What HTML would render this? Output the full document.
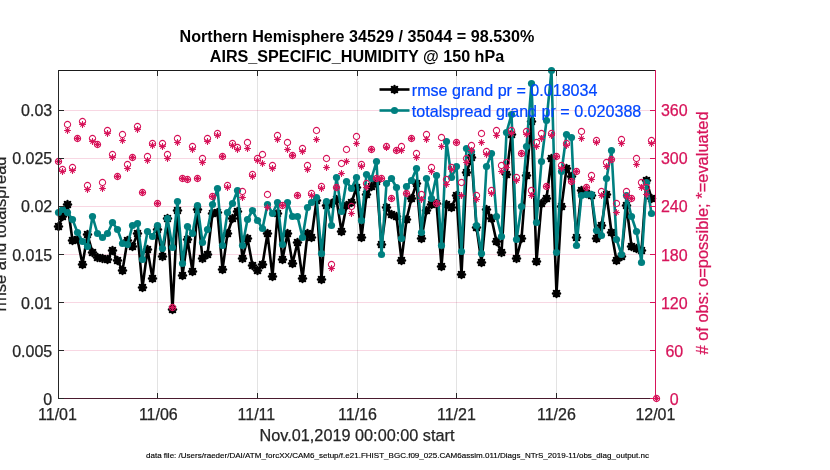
<!DOCTYPE html><html><head><meta charset="utf-8"><style>html,body{margin:0;padding:0;background:#fff;overflow:hidden}svg{display:block}</style></head><body><svg width="830" height="470" viewBox="0 0 830 470">
<rect width="830" height="470" fill="#fff"/>
<line x1="157.50" y1="70.5" x2="157.50" y2="398.5" stroke="#262626" stroke-opacity="0.13" stroke-width="1"/><line x1="257.50" y1="70.5" x2="257.50" y2="398.5" stroke="#262626" stroke-opacity="0.13" stroke-width="1"/><line x1="357.50" y1="70.5" x2="357.50" y2="398.5" stroke="#262626" stroke-opacity="0.13" stroke-width="1"/><line x1="456.50" y1="70.5" x2="456.50" y2="398.5" stroke="#262626" stroke-opacity="0.13" stroke-width="1"/><line x1="556.50" y1="70.5" x2="556.50" y2="398.5" stroke="#262626" stroke-opacity="0.13" stroke-width="1"/><line x1="58.5" y1="350.5" x2="655.5" y2="350.5" stroke="#d7145a" stroke-opacity="0.17" stroke-width="1"/><line x1="58.5" y1="302.5" x2="655.5" y2="302.5" stroke="#d7145a" stroke-opacity="0.17" stroke-width="1"/><line x1="58.5" y1="254.5" x2="655.5" y2="254.5" stroke="#d7145a" stroke-opacity="0.17" stroke-width="1"/><line x1="58.5" y1="206.5" x2="655.5" y2="206.5" stroke="#d7145a" stroke-opacity="0.17" stroke-width="1"/><line x1="58.5" y1="158.5" x2="655.5" y2="158.5" stroke="#d7145a" stroke-opacity="0.17" stroke-width="1"/><line x1="58.5" y1="110.5" x2="655.5" y2="110.5" stroke="#d7145a" stroke-opacity="0.17" stroke-width="1"/>
<defs><g id="st"><path d="M-3.6 0H3.6M0 -3.6V3.6M-2.6 -2.6L2.6 2.6M-2.6 2.6L2.6 -2.6" stroke="#000" stroke-width="2.4" stroke-linecap="round"/></g><g id="ps"><path d="M-3.4 0H3.4M0 -3.4V3.4M-2.2 -2.2L2.2 2.2M-2.2 2.2L2.2 -2.2" stroke="#d7145a" stroke-width="1.05"/></g><circle id="pc" r="3.15" fill="none" stroke="#d7145a" stroke-width="1.05"/></defs>
<polyline points="58.5,226.5 62.5,216.5 67.5,204.5 72.5,240.5 77.5,239.5 82.5,264.5 87.5,234.5 92.5,252.5 97.5,257.5 102.5,258.5 107.5,259.5 112.5,250.5 117.5,260.5 122.5,270.5 127.5,240.5 132.5,246.5 137.5,233.5 142.5,287.5 147.5,249.5 152.5,278.5 157.5,229.5 162.5,256.5 167.5,218.5 172.5,309.5 177.5,210.5 182.5,275.5 187.5,239.5 192.5,271.5 197.5,209.5 202.5,258.5 207.5,254.5 212.5,213.5 217.5,212.5 222.5,269.5 227.5,233.5 232.5,218.5 237.5,211.5 242.5,258.5 247.5,238.5 252.5,265.5 257.5,270.5 262.5,264.5 267.5,233.5 272.5,276.5 277.5,213.5 282.5,259.5 287.5,233.5 292.5,263.5 297.5,242.5 302.5,278.5 307.5,233.5 311.5,237.5 316.5,200.5 321.5,279.5 326.5,205.5 331.5,203.5 336.5,199.5 341.5,231.5 346.5,205.5 351.5,202.5 356.5,187.5 361.5,237.5 366.5,194.5 371.5,186.5 376.5,181.5 381.5,244.5 386.5,207.5 391.5,214.5 396.5,216.5 401.5,260.5 406.5,219.5 411.5,198.5 416.5,183.5 421.5,238.5 426.5,210.5 431.5,204.5 436.5,203.5 441.5,266.5 446.5,204.5 451.5,207.5 456.5,195.5 461.5,274.5 466.5,172.5 471.5,157.5 476.5,227.5 481.5,262.5 486.5,209.5 491.5,218.5 496.5,241.5 501.5,252.5 506.5,174.5 511.5,134.5 516.5,258.5 521.5,238.5 526.5,175.5 531.5,121.5 536.5,261.5 541.5,203.5 546.5,198.5 551.5,158.5 556.5,293.5 561.5,206.5 566.5,168.5 571.5,176.5 576.5,237.5 581.5,190.5 586.5,193.5 591.5,195.5 596.5,238.5 601.5,225.5 606.5,194.5 611.5,232.5 616.5,260.5 621.5,256.5 626.5,205.5 631.5,246.5 636.5,248.5 641.5,250.5 646.5,180.5 651.5,198.5" fill="none" stroke="#000" stroke-width="2.6" stroke-linejoin="round"/>
<use href="#st" x="58.5" y="226.5"/>
<use href="#st" x="62.5" y="216.5"/>
<use href="#st" x="67.5" y="204.5"/>
<use href="#st" x="72.5" y="240.5"/>
<use href="#st" x="77.5" y="239.5"/>
<use href="#st" x="82.5" y="264.5"/>
<use href="#st" x="87.5" y="234.5"/>
<use href="#st" x="92.5" y="252.5"/>
<use href="#st" x="97.5" y="257.5"/>
<use href="#st" x="102.5" y="258.5"/>
<use href="#st" x="107.5" y="259.5"/>
<use href="#st" x="112.5" y="250.5"/>
<use href="#st" x="117.5" y="260.5"/>
<use href="#st" x="122.5" y="270.5"/>
<use href="#st" x="127.5" y="240.5"/>
<use href="#st" x="132.5" y="246.5"/>
<use href="#st" x="137.5" y="233.5"/>
<use href="#st" x="142.5" y="287.5"/>
<use href="#st" x="147.5" y="249.5"/>
<use href="#st" x="152.5" y="278.5"/>
<use href="#st" x="157.5" y="229.5"/>
<use href="#st" x="162.5" y="256.5"/>
<use href="#st" x="167.5" y="218.5"/>
<use href="#st" x="172.5" y="309.5"/>
<use href="#st" x="177.5" y="210.5"/>
<use href="#st" x="182.5" y="275.5"/>
<use href="#st" x="187.5" y="239.5"/>
<use href="#st" x="192.5" y="271.5"/>
<use href="#st" x="197.5" y="209.5"/>
<use href="#st" x="202.5" y="258.5"/>
<use href="#st" x="207.5" y="254.5"/>
<use href="#st" x="212.5" y="213.5"/>
<use href="#st" x="217.5" y="212.5"/>
<use href="#st" x="222.5" y="269.5"/>
<use href="#st" x="227.5" y="233.5"/>
<use href="#st" x="232.5" y="218.5"/>
<use href="#st" x="237.5" y="211.5"/>
<use href="#st" x="242.5" y="258.5"/>
<use href="#st" x="247.5" y="238.5"/>
<use href="#st" x="252.5" y="265.5"/>
<use href="#st" x="257.5" y="270.5"/>
<use href="#st" x="262.5" y="264.5"/>
<use href="#st" x="267.5" y="233.5"/>
<use href="#st" x="272.5" y="276.5"/>
<use href="#st" x="277.5" y="213.5"/>
<use href="#st" x="282.5" y="259.5"/>
<use href="#st" x="287.5" y="233.5"/>
<use href="#st" x="292.5" y="263.5"/>
<use href="#st" x="297.5" y="242.5"/>
<use href="#st" x="302.5" y="278.5"/>
<use href="#st" x="307.5" y="233.5"/>
<use href="#st" x="311.5" y="237.5"/>
<use href="#st" x="316.5" y="200.5"/>
<use href="#st" x="321.5" y="279.5"/>
<use href="#st" x="326.5" y="205.5"/>
<use href="#st" x="331.5" y="203.5"/>
<use href="#st" x="336.5" y="199.5"/>
<use href="#st" x="341.5" y="231.5"/>
<use href="#st" x="346.5" y="205.5"/>
<use href="#st" x="351.5" y="202.5"/>
<use href="#st" x="356.5" y="187.5"/>
<use href="#st" x="361.5" y="237.5"/>
<use href="#st" x="366.5" y="194.5"/>
<use href="#st" x="371.5" y="186.5"/>
<use href="#st" x="376.5" y="181.5"/>
<use href="#st" x="381.5" y="244.5"/>
<use href="#st" x="386.5" y="207.5"/>
<use href="#st" x="391.5" y="214.5"/>
<use href="#st" x="396.5" y="216.5"/>
<use href="#st" x="401.5" y="260.5"/>
<use href="#st" x="406.5" y="219.5"/>
<use href="#st" x="411.5" y="198.5"/>
<use href="#st" x="416.5" y="183.5"/>
<use href="#st" x="421.5" y="238.5"/>
<use href="#st" x="426.5" y="210.5"/>
<use href="#st" x="431.5" y="204.5"/>
<use href="#st" x="436.5" y="203.5"/>
<use href="#st" x="441.5" y="266.5"/>
<use href="#st" x="446.5" y="204.5"/>
<use href="#st" x="451.5" y="207.5"/>
<use href="#st" x="456.5" y="195.5"/>
<use href="#st" x="461.5" y="274.5"/>
<use href="#st" x="466.5" y="172.5"/>
<use href="#st" x="471.5" y="157.5"/>
<use href="#st" x="476.5" y="227.5"/>
<use href="#st" x="481.5" y="262.5"/>
<use href="#st" x="486.5" y="209.5"/>
<use href="#st" x="491.5" y="218.5"/>
<use href="#st" x="496.5" y="241.5"/>
<use href="#st" x="501.5" y="252.5"/>
<use href="#st" x="506.5" y="174.5"/>
<use href="#st" x="511.5" y="134.5"/>
<use href="#st" x="516.5" y="258.5"/>
<use href="#st" x="521.5" y="238.5"/>
<use href="#st" x="526.5" y="175.5"/>
<use href="#st" x="531.5" y="121.5"/>
<use href="#st" x="536.5" y="261.5"/>
<use href="#st" x="541.5" y="203.5"/>
<use href="#st" x="546.5" y="198.5"/>
<use href="#st" x="551.5" y="158.5"/>
<use href="#st" x="556.5" y="293.5"/>
<use href="#st" x="561.5" y="206.5"/>
<use href="#st" x="566.5" y="168.5"/>
<use href="#st" x="571.5" y="176.5"/>
<use href="#st" x="576.5" y="237.5"/>
<use href="#st" x="581.5" y="190.5"/>
<use href="#st" x="586.5" y="193.5"/>
<use href="#st" x="591.5" y="195.5"/>
<use href="#st" x="596.5" y="238.5"/>
<use href="#st" x="601.5" y="225.5"/>
<use href="#st" x="606.5" y="194.5"/>
<use href="#st" x="611.5" y="232.5"/>
<use href="#st" x="616.5" y="260.5"/>
<use href="#st" x="621.5" y="256.5"/>
<use href="#st" x="626.5" y="205.5"/>
<use href="#st" x="631.5" y="246.5"/>
<use href="#st" x="636.5" y="248.5"/>
<use href="#st" x="641.5" y="250.5"/>
<use href="#st" x="646.5" y="180.5"/>
<use href="#st" x="651.5" y="198.5"/>
<polyline points="58.5,212.5 62.5,209.5 67.5,212.5 72.5,219.5 77.5,232.5 82.5,241.5 87.5,246.5 92.5,216.5 97.5,233.5 102.5,237.5 107.5,233.5 112.5,222.5 117.5,229.5 122.5,243.5 127.5,244.5 132.5,225.5 137.5,223.5 142.5,259.5 147.5,231.5 152.5,236.5 157.5,225.5 162.5,248.5 167.5,218.5 172.5,247.5 177.5,201.5 182.5,263.5 187.5,226.5 192.5,233.5 197.5,205.5 202.5,242.5 207.5,229.5 212.5,204.5 217.5,188.5 222.5,245.5 227.5,212.5 232.5,203.5 237.5,190.5 242.5,245.5 247.5,219.5 252.5,210.5 257.5,220.5 262.5,228.5 267.5,204.5 272.5,213.5 277.5,202.5 282.5,244.5 287.5,202.5 292.5,216.5 297.5,216.5 302.5,237.5 307.5,207.5 311.5,202.5 316.5,197.5 321.5,253.5 326.5,201.5 331.5,225.5 336.5,177.5 341.5,211.5 346.5,181.5 351.5,188.5 356.5,177.5 361.5,220.5 366.5,174.5 371.5,178.5 376.5,161.5 381.5,254.5 386.5,183.5 391.5,178.5 396.5,187.5 401.5,238.5 406.5,186.5 411.5,180.5 416.5,168.5 421.5,232.5 426.5,178.5 431.5,198.5 436.5,175.5 441.5,245.5 446.5,141.5 451.5,177.5 456.5,166.5 461.5,251.5 466.5,148.5 471.5,151.5 476.5,225.5 481.5,253.5 486.5,166.5 491.5,153.5 496.5,216.5 501.5,236.5 506.5,132.5 511.5,114.5 516.5,239.5 521.5,206.5 526.5,146.5 531.5,83.5 536.5,222.5 541.5,161.5 546.5,120.5 551.5,70.5 556.5,252.5 561.5,171.5 566.5,134.5 571.5,137.5 576.5,245.5 581.5,195.5 586.5,194.5 591.5,194.5 596.5,230.5 601.5,235.5 606.5,178.5 611.5,150.5 616.5,239.5 621.5,254.5 626.5,195.5 631.5,216.5 636.5,231.5 641.5,262.5 646.5,182.5 651.5,213.5" fill="none" stroke="#008080" stroke-width="2.6" stroke-linejoin="round"/>
<circle cx="58.5" cy="212.5" r="3.6" fill="#008080"/>
<circle cx="62.5" cy="209.5" r="3.6" fill="#008080"/>
<circle cx="67.5" cy="212.5" r="3.6" fill="#008080"/>
<circle cx="72.5" cy="219.5" r="3.6" fill="#008080"/>
<circle cx="77.5" cy="232.5" r="3.6" fill="#008080"/>
<circle cx="82.5" cy="241.5" r="3.6" fill="#008080"/>
<circle cx="87.5" cy="246.5" r="3.6" fill="#008080"/>
<circle cx="92.5" cy="216.5" r="3.6" fill="#008080"/>
<circle cx="97.5" cy="233.5" r="3.6" fill="#008080"/>
<circle cx="102.5" cy="237.5" r="3.6" fill="#008080"/>
<circle cx="107.5" cy="233.5" r="3.6" fill="#008080"/>
<circle cx="112.5" cy="222.5" r="3.6" fill="#008080"/>
<circle cx="117.5" cy="229.5" r="3.6" fill="#008080"/>
<circle cx="122.5" cy="243.5" r="3.6" fill="#008080"/>
<circle cx="127.5" cy="244.5" r="3.6" fill="#008080"/>
<circle cx="132.5" cy="225.5" r="3.6" fill="#008080"/>
<circle cx="137.5" cy="223.5" r="3.6" fill="#008080"/>
<circle cx="142.5" cy="259.5" r="3.6" fill="#008080"/>
<circle cx="147.5" cy="231.5" r="3.6" fill="#008080"/>
<circle cx="152.5" cy="236.5" r="3.6" fill="#008080"/>
<circle cx="157.5" cy="225.5" r="3.6" fill="#008080"/>
<circle cx="162.5" cy="248.5" r="3.6" fill="#008080"/>
<circle cx="167.5" cy="218.5" r="3.6" fill="#008080"/>
<circle cx="172.5" cy="247.5" r="3.6" fill="#008080"/>
<circle cx="177.5" cy="201.5" r="3.6" fill="#008080"/>
<circle cx="182.5" cy="263.5" r="3.6" fill="#008080"/>
<circle cx="187.5" cy="226.5" r="3.6" fill="#008080"/>
<circle cx="192.5" cy="233.5" r="3.6" fill="#008080"/>
<circle cx="197.5" cy="205.5" r="3.6" fill="#008080"/>
<circle cx="202.5" cy="242.5" r="3.6" fill="#008080"/>
<circle cx="207.5" cy="229.5" r="3.6" fill="#008080"/>
<circle cx="212.5" cy="204.5" r="3.6" fill="#008080"/>
<circle cx="217.5" cy="188.5" r="3.6" fill="#008080"/>
<circle cx="222.5" cy="245.5" r="3.6" fill="#008080"/>
<circle cx="227.5" cy="212.5" r="3.6" fill="#008080"/>
<circle cx="232.5" cy="203.5" r="3.6" fill="#008080"/>
<circle cx="237.5" cy="190.5" r="3.6" fill="#008080"/>
<circle cx="242.5" cy="245.5" r="3.6" fill="#008080"/>
<circle cx="247.5" cy="219.5" r="3.6" fill="#008080"/>
<circle cx="252.5" cy="210.5" r="3.6" fill="#008080"/>
<circle cx="257.5" cy="220.5" r="3.6" fill="#008080"/>
<circle cx="262.5" cy="228.5" r="3.6" fill="#008080"/>
<circle cx="267.5" cy="204.5" r="3.6" fill="#008080"/>
<circle cx="272.5" cy="213.5" r="3.6" fill="#008080"/>
<circle cx="277.5" cy="202.5" r="3.6" fill="#008080"/>
<circle cx="282.5" cy="244.5" r="3.6" fill="#008080"/>
<circle cx="287.5" cy="202.5" r="3.6" fill="#008080"/>
<circle cx="292.5" cy="216.5" r="3.6" fill="#008080"/>
<circle cx="297.5" cy="216.5" r="3.6" fill="#008080"/>
<circle cx="302.5" cy="237.5" r="3.6" fill="#008080"/>
<circle cx="307.5" cy="207.5" r="3.6" fill="#008080"/>
<circle cx="311.5" cy="202.5" r="3.6" fill="#008080"/>
<circle cx="316.5" cy="197.5" r="3.6" fill="#008080"/>
<circle cx="321.5" cy="253.5" r="3.6" fill="#008080"/>
<circle cx="326.5" cy="201.5" r="3.6" fill="#008080"/>
<circle cx="331.5" cy="225.5" r="3.6" fill="#008080"/>
<circle cx="336.5" cy="177.5" r="3.6" fill="#008080"/>
<circle cx="341.5" cy="211.5" r="3.6" fill="#008080"/>
<circle cx="346.5" cy="181.5" r="3.6" fill="#008080"/>
<circle cx="351.5" cy="188.5" r="3.6" fill="#008080"/>
<circle cx="356.5" cy="177.5" r="3.6" fill="#008080"/>
<circle cx="361.5" cy="220.5" r="3.6" fill="#008080"/>
<circle cx="366.5" cy="174.5" r="3.6" fill="#008080"/>
<circle cx="371.5" cy="178.5" r="3.6" fill="#008080"/>
<circle cx="376.5" cy="161.5" r="3.6" fill="#008080"/>
<circle cx="381.5" cy="254.5" r="3.6" fill="#008080"/>
<circle cx="386.5" cy="183.5" r="3.6" fill="#008080"/>
<circle cx="391.5" cy="178.5" r="3.6" fill="#008080"/>
<circle cx="396.5" cy="187.5" r="3.6" fill="#008080"/>
<circle cx="401.5" cy="238.5" r="3.6" fill="#008080"/>
<circle cx="406.5" cy="186.5" r="3.6" fill="#008080"/>
<circle cx="411.5" cy="180.5" r="3.6" fill="#008080"/>
<circle cx="416.5" cy="168.5" r="3.6" fill="#008080"/>
<circle cx="421.5" cy="232.5" r="3.6" fill="#008080"/>
<circle cx="426.5" cy="178.5" r="3.6" fill="#008080"/>
<circle cx="431.5" cy="198.5" r="3.6" fill="#008080"/>
<circle cx="436.5" cy="175.5" r="3.6" fill="#008080"/>
<circle cx="441.5" cy="245.5" r="3.6" fill="#008080"/>
<circle cx="446.5" cy="141.5" r="3.6" fill="#008080"/>
<circle cx="451.5" cy="177.5" r="3.6" fill="#008080"/>
<circle cx="456.5" cy="166.5" r="3.6" fill="#008080"/>
<circle cx="461.5" cy="251.5" r="3.6" fill="#008080"/>
<circle cx="466.5" cy="148.5" r="3.6" fill="#008080"/>
<circle cx="471.5" cy="151.5" r="3.6" fill="#008080"/>
<circle cx="476.5" cy="225.5" r="3.6" fill="#008080"/>
<circle cx="481.5" cy="253.5" r="3.6" fill="#008080"/>
<circle cx="486.5" cy="166.5" r="3.6" fill="#008080"/>
<circle cx="491.5" cy="153.5" r="3.6" fill="#008080"/>
<circle cx="496.5" cy="216.5" r="3.6" fill="#008080"/>
<circle cx="501.5" cy="236.5" r="3.6" fill="#008080"/>
<circle cx="506.5" cy="132.5" r="3.6" fill="#008080"/>
<circle cx="511.5" cy="114.5" r="3.6" fill="#008080"/>
<circle cx="516.5" cy="239.5" r="3.6" fill="#008080"/>
<circle cx="521.5" cy="206.5" r="3.6" fill="#008080"/>
<circle cx="526.5" cy="146.5" r="3.6" fill="#008080"/>
<circle cx="531.5" cy="83.5" r="3.6" fill="#008080"/>
<circle cx="536.5" cy="222.5" r="3.6" fill="#008080"/>
<circle cx="541.5" cy="161.5" r="3.6" fill="#008080"/>
<circle cx="546.5" cy="120.5" r="3.6" fill="#008080"/>
<circle cx="551.5" cy="70.5" r="3.6" fill="#008080"/>
<circle cx="556.5" cy="252.5" r="3.6" fill="#008080"/>
<circle cx="561.5" cy="171.5" r="3.6" fill="#008080"/>
<circle cx="566.5" cy="134.5" r="3.6" fill="#008080"/>
<circle cx="571.5" cy="137.5" r="3.6" fill="#008080"/>
<circle cx="576.5" cy="245.5" r="3.6" fill="#008080"/>
<circle cx="581.5" cy="195.5" r="3.6" fill="#008080"/>
<circle cx="586.5" cy="194.5" r="3.6" fill="#008080"/>
<circle cx="591.5" cy="194.5" r="3.6" fill="#008080"/>
<circle cx="596.5" cy="230.5" r="3.6" fill="#008080"/>
<circle cx="601.5" cy="235.5" r="3.6" fill="#008080"/>
<circle cx="606.5" cy="178.5" r="3.6" fill="#008080"/>
<circle cx="611.5" cy="150.5" r="3.6" fill="#008080"/>
<circle cx="616.5" cy="239.5" r="3.6" fill="#008080"/>
<circle cx="621.5" cy="254.5" r="3.6" fill="#008080"/>
<circle cx="626.5" cy="195.5" r="3.6" fill="#008080"/>
<circle cx="631.5" cy="216.5" r="3.6" fill="#008080"/>
<circle cx="636.5" cy="231.5" r="3.6" fill="#008080"/>
<circle cx="641.5" cy="262.5" r="3.6" fill="#008080"/>
<circle cx="646.5" cy="182.5" r="3.6" fill="#008080"/>
<circle cx="651.5" cy="213.5" r="3.6" fill="#008080"/>
<use href="#pc" x="58.5" y="161.5"/>
<use href="#ps" x="58.5" y="161.5"/>
<use href="#pc" x="62.5" y="169.5"/>
<use href="#ps" x="62.5" y="171.5"/>
<use href="#pc" x="67.5" y="124.5"/>
<use href="#ps" x="67.5" y="130.5"/>
<use href="#pc" x="72.5" y="167.5"/>
<use href="#ps" x="72.5" y="170.5"/>
<use href="#pc" x="77.5" y="138.5"/>
<use href="#ps" x="77.5" y="138.5"/>
<use href="#pc" x="82.5" y="121.5"/>
<use href="#ps" x="82.5" y="124.5"/>
<use href="#pc" x="87.5" y="185.5"/>
<use href="#ps" x="87.5" y="189.5"/>
<use href="#pc" x="92.5" y="138.5"/>
<use href="#ps" x="92.5" y="141.5"/>
<use href="#pc" x="97.5" y="144.5"/>
<use href="#ps" x="97.5" y="144.5"/>
<use href="#pc" x="102.5" y="182.5"/>
<use href="#ps" x="102.5" y="188.5"/>
<use href="#pc" x="107.5" y="130.5"/>
<use href="#ps" x="107.5" y="133.5"/>
<use href="#pc" x="112.5" y="154.5"/>
<use href="#ps" x="112.5" y="157.5"/>
<use href="#pc" x="117.5" y="176.5"/>
<use href="#ps" x="117.5" y="176.5"/>
<use href="#pc" x="122.5" y="134.5"/>
<use href="#ps" x="122.5" y="140.5"/>
<use href="#pc" x="127.5" y="164.5"/>
<use href="#ps" x="127.5" y="168.5"/>
<use href="#pc" x="132.5" y="157.5"/>
<use href="#ps" x="132.5" y="157.5"/>
<use href="#pc" x="137.5" y="126.5"/>
<use href="#ps" x="137.5" y="129.5"/>
<use href="#pc" x="142.5" y="192.5"/>
<use href="#ps" x="142.5" y="192.5"/>
<use href="#pc" x="147.5" y="156.5"/>
<use href="#ps" x="147.5" y="160.5"/>
<use href="#pc" x="152.5" y="143.5"/>
<use href="#ps" x="152.5" y="145.5"/>
<use href="#pc" x="157.5" y="203.5"/>
<use href="#ps" x="157.5" y="203.5"/>
<use href="#pc" x="162.5" y="143.5"/>
<use href="#ps" x="162.5" y="146.5"/>
<use href="#pc" x="167.5" y="154.5"/>
<use href="#ps" x="167.5" y="158.5"/>
<use href="#pc" x="172.5" y="307.5"/>
<use href="#ps" x="172.5" y="307.5"/>
<use href="#pc" x="177.5" y="138.5"/>
<use href="#ps" x="177.5" y="142.5"/>
<use href="#pc" x="182.5" y="178.5"/>
<use href="#ps" x="182.5" y="178.5"/>
<use href="#pc" x="187.5" y="179.5"/>
<use href="#ps" x="187.5" y="179.5"/>
<use href="#pc" x="192.5" y="146.5"/>
<use href="#ps" x="192.5" y="149.5"/>
<use href="#pc" x="197.5" y="178.5"/>
<use href="#ps" x="197.5" y="178.5"/>
<use href="#pc" x="202.5" y="158.5"/>
<use href="#ps" x="202.5" y="162.5"/>
<use href="#pc" x="207.5" y="138.5"/>
<use href="#ps" x="207.5" y="141.5"/>
<use href="#pc" x="212.5" y="196.5"/>
<use href="#ps" x="212.5" y="196.5"/>
<use href="#pc" x="217.5" y="133.5"/>
<use href="#ps" x="217.5" y="135.5"/>
<use href="#pc" x="222.5" y="156.5"/>
<use href="#ps" x="222.5" y="156.5"/>
<use href="#pc" x="227.5" y="185.5"/>
<use href="#ps" x="227.5" y="187.5"/>
<use href="#pc" x="232.5" y="143.5"/>
<use href="#ps" x="232.5" y="145.5"/>
<use href="#pc" x="237.5" y="147.5"/>
<use href="#ps" x="237.5" y="149.5"/>
<use href="#pc" x="242.5" y="191.5"/>
<use href="#ps" x="242.5" y="197.5"/>
<use href="#pc" x="247.5" y="142.5"/>
<use href="#ps" x="247.5" y="148.5"/>
<use href="#pc" x="252.5" y="174.5"/>
<use href="#ps" x="252.5" y="176.5"/>
<use href="#pc" x="257.5" y="158.5"/>
<use href="#ps" x="257.5" y="160.5"/>
<use href="#pc" x="262.5" y="154.5"/>
<use href="#ps" x="262.5" y="163.5"/>
<use href="#pc" x="267.5" y="194.5"/>
<use href="#ps" x="267.5" y="207.5"/>
<use href="#pc" x="272.5" y="165.5"/>
<use href="#ps" x="272.5" y="168.5"/>
<use href="#pc" x="277.5" y="135.5"/>
<use href="#ps" x="277.5" y="139.5"/>
<use href="#pc" x="282.5" y="205.5"/>
<use href="#ps" x="282.5" y="205.5"/>
<use href="#pc" x="287.5" y="142.5"/>
<use href="#ps" x="287.5" y="149.5"/>
<use href="#pc" x="292.5" y="155.5"/>
<use href="#ps" x="292.5" y="155.5"/>
<use href="#pc" x="297.5" y="195.5"/>
<use href="#ps" x="297.5" y="195.5"/>
<use href="#pc" x="302.5" y="148.5"/>
<use href="#ps" x="302.5" y="151.5"/>
<use href="#pc" x="307.5" y="165.5"/>
<use href="#ps" x="307.5" y="169.5"/>
<use href="#pc" x="311.5" y="193.5"/>
<use href="#ps" x="311.5" y="195.5"/>
<use href="#pc" x="316.5" y="130.5"/>
<use href="#ps" x="316.5" y="139.5"/>
<use href="#pc" x="321.5" y="186.5"/>
<use href="#ps" x="321.5" y="188.5"/>
<use href="#pc" x="326.5" y="158.5"/>
<use href="#ps" x="326.5" y="167.5"/>
<use href="#pc" x="331.5" y="264.5"/>
<use href="#ps" x="331.5" y="268.5"/>
<use href="#pc" x="336.5" y="187.5"/>
<use href="#ps" x="336.5" y="187.5"/>
<use href="#pc" x="341.5" y="163.5"/>
<use href="#ps" x="341.5" y="173.5"/>
<use href="#pc" x="346.5" y="149.5"/>
<use href="#ps" x="346.5" y="161.5"/>
<use href="#pc" x="351.5" y="206.5"/>
<use href="#ps" x="351.5" y="213.5"/>
<use href="#pc" x="356.5" y="136.5"/>
<use href="#ps" x="356.5" y="143.5"/>
<use href="#pc" x="361.5" y="164.5"/>
<use href="#ps" x="361.5" y="166.5"/>
<use href="#pc" x="366.5" y="183.5"/>
<use href="#ps" x="366.5" y="187.5"/>
<use href="#pc" x="371.5" y="149.5"/>
<use href="#ps" x="371.5" y="149.5"/>
<use href="#pc" x="376.5" y="178.5"/>
<use href="#ps" x="376.5" y="178.5"/>
<use href="#pc" x="381.5" y="178.5"/>
<use href="#ps" x="381.5" y="178.5"/>
<use href="#pc" x="386.5" y="146.5"/>
<use href="#ps" x="386.5" y="147.5"/>
<use href="#pc" x="391.5" y="198.5"/>
<use href="#ps" x="391.5" y="198.5"/>
<use href="#pc" x="396.5" y="150.5"/>
<use href="#ps" x="396.5" y="150.5"/>
<use href="#pc" x="401.5" y="146.5"/>
<use href="#ps" x="401.5" y="150.5"/>
<use href="#pc" x="406.5" y="193.5"/>
<use href="#ps" x="406.5" y="193.5"/>
<use href="#pc" x="411.5" y="138.5"/>
<use href="#ps" x="411.5" y="138.5"/>
<use href="#pc" x="416.5" y="153.5"/>
<use href="#ps" x="416.5" y="157.5"/>
<use href="#pc" x="421.5" y="194.5"/>
<use href="#ps" x="421.5" y="199.5"/>
<use href="#pc" x="426.5" y="134.5"/>
<use href="#ps" x="426.5" y="139.5"/>
<use href="#pc" x="431.5" y="167.5"/>
<use href="#ps" x="431.5" y="171.5"/>
<use href="#pc" x="436.5" y="203.5"/>
<use href="#ps" x="436.5" y="203.5"/>
<use href="#pc" x="441.5" y="137.5"/>
<use href="#ps" x="441.5" y="146.5"/>
<use href="#pc" x="446.5" y="179.5"/>
<use href="#ps" x="446.5" y="184.5"/>
<use href="#pc" x="451.5" y="167.5"/>
<use href="#ps" x="451.5" y="169.5"/>
<use href="#pc" x="456.5" y="142.5"/>
<use href="#ps" x="456.5" y="142.5"/>
<use href="#pc" x="461.5" y="182.5"/>
<use href="#ps" x="461.5" y="195.5"/>
<use href="#pc" x="466.5" y="158.5"/>
<use href="#ps" x="466.5" y="162.5"/>
<use href="#pc" x="471.5" y="145.5"/>
<use href="#ps" x="471.5" y="150.5"/>
<use href="#pc" x="476.5" y="195.5"/>
<use href="#ps" x="476.5" y="199.5"/>
<use href="#pc" x="481.5" y="133.5"/>
<use href="#ps" x="481.5" y="142.5"/>
<use href="#pc" x="486.5" y="151.5"/>
<use href="#ps" x="486.5" y="154.5"/>
<use href="#pc" x="491.5" y="190.5"/>
<use href="#ps" x="491.5" y="193.5"/>
<use href="#pc" x="496.5" y="130.5"/>
<use href="#ps" x="496.5" y="135.5"/>
<use href="#pc" x="501.5" y="165.5"/>
<use href="#ps" x="501.5" y="171.5"/>
<use href="#pc" x="506.5" y="162.5"/>
<use href="#ps" x="506.5" y="167.5"/>
<use href="#pc" x="511.5" y="130.5"/>
<use href="#ps" x="511.5" y="133.5"/>
<use href="#pc" x="516.5" y="177.5"/>
<use href="#ps" x="516.5" y="180.5"/>
<use href="#pc" x="521.5" y="153.5"/>
<use href="#ps" x="521.5" y="153.5"/>
<use href="#pc" x="526.5" y="131.5"/>
<use href="#ps" x="526.5" y="134.5"/>
<use href="#pc" x="531.5" y="190.5"/>
<use href="#ps" x="531.5" y="195.5"/>
<use href="#pc" x="536.5" y="142.5"/>
<use href="#ps" x="536.5" y="146.5"/>
<use href="#pc" x="541.5" y="133.5"/>
<use href="#ps" x="541.5" y="138.5"/>
<use href="#pc" x="546.5" y="186.5"/>
<use href="#ps" x="546.5" y="186.5"/>
<use href="#pc" x="551.5" y="133.5"/>
<use href="#ps" x="551.5" y="135.5"/>
<use href="#pc" x="556.5" y="156.5"/>
<use href="#ps" x="556.5" y="156.5"/>
<use href="#pc" x="561.5" y="165.5"/>
<use href="#ps" x="561.5" y="168.5"/>
<use href="#pc" x="566.5" y="143.5"/>
<use href="#ps" x="566.5" y="145.5"/>
<use href="#pc" x="571.5" y="181.5"/>
<use href="#ps" x="571.5" y="181.5"/>
<use href="#pc" x="576.5" y="171.5"/>
<use href="#ps" x="576.5" y="171.5"/>
<use href="#pc" x="581.5" y="131.5"/>
<use href="#ps" x="581.5" y="138.5"/>
<use href="#pc" x="586.5" y="187.5"/>
<use href="#ps" x="586.5" y="187.5"/>
<use href="#pc" x="591.5" y="175.5"/>
<use href="#ps" x="591.5" y="179.5"/>
<use href="#pc" x="596.5" y="140.5"/>
<use href="#ps" x="596.5" y="142.5"/>
<use href="#pc" x="601.5" y="191.5"/>
<use href="#ps" x="601.5" y="195.5"/>
<use href="#pc" x="606.5" y="162.5"/>
<use href="#ps" x="606.5" y="166.5"/>
<use href="#pc" x="611.5" y="159.5"/>
<use href="#ps" x="611.5" y="159.5"/>
<use href="#pc" x="616.5" y="203.5"/>
<use href="#ps" x="616.5" y="212.5"/>
<use href="#pc" x="621.5" y="139.5"/>
<use href="#ps" x="621.5" y="143.5"/>
<use href="#pc" x="626.5" y="191.5"/>
<use href="#ps" x="626.5" y="196.5"/>
<use href="#pc" x="631.5" y="198.5"/>
<use href="#ps" x="631.5" y="198.5"/>
<use href="#pc" x="636.5" y="158.5"/>
<use href="#ps" x="636.5" y="164.5"/>
<use href="#pc" x="641.5" y="182.5"/>
<use href="#ps" x="641.5" y="187.5"/>
<use href="#pc" x="646.5" y="187.5"/>
<use href="#ps" x="646.5" y="194.5"/>
<use href="#pc" x="651.5" y="140.5"/>
<use href="#ps" x="651.5" y="143.5"/>
<use href="#pc" x="656.5" y="398.5"/>
<use href="#ps" x="656.5" y="398.5"/>
<line x1="58.5" y1="70.5" x2="655.5" y2="70.5" stroke="#1a1a1a" stroke-width="1"/>
<line x1="58.0" y1="398.5" x2="655.5" y2="398.5" stroke="#4a1a2e" stroke-width="1"/>
<line x1="58.5" y1="70.0" x2="58.5" y2="399.0" stroke="#262626" stroke-width="1"/>
<line x1="655.5" y1="70.0" x2="655.5" y2="399.0" stroke="#d7145a" stroke-width="1"/>
<line x1="58.50" y1="398.5" x2="58.50" y2="393.0" stroke="#262626"/><line x1="58.50" y1="70.5" x2="58.50" y2="76.0" stroke="#262626"/><line x1="157.50" y1="398.5" x2="157.50" y2="393.0" stroke="#262626"/><line x1="157.50" y1="70.5" x2="157.50" y2="76.0" stroke="#262626"/><line x1="257.50" y1="398.5" x2="257.50" y2="393.0" stroke="#262626"/><line x1="257.50" y1="70.5" x2="257.50" y2="76.0" stroke="#262626"/><line x1="357.50" y1="398.5" x2="357.50" y2="393.0" stroke="#262626"/><line x1="357.50" y1="70.5" x2="357.50" y2="76.0" stroke="#262626"/><line x1="456.50" y1="398.5" x2="456.50" y2="393.0" stroke="#262626"/><line x1="456.50" y1="70.5" x2="456.50" y2="76.0" stroke="#262626"/><line x1="556.50" y1="398.5" x2="556.50" y2="393.0" stroke="#262626"/><line x1="556.50" y1="70.5" x2="556.50" y2="76.0" stroke="#262626"/><line x1="58.5" y1="398.5" x2="64.0" y2="398.5" stroke="#262626"/><line x1="655.5" y1="398.5" x2="650.0" y2="398.5" stroke="#d7145a"/><line x1="58.5" y1="350.5" x2="64.0" y2="350.5" stroke="#262626"/><line x1="655.5" y1="350.5" x2="650.0" y2="350.5" stroke="#d7145a"/><line x1="58.5" y1="302.5" x2="64.0" y2="302.5" stroke="#262626"/><line x1="655.5" y1="302.5" x2="650.0" y2="302.5" stroke="#d7145a"/><line x1="58.5" y1="254.5" x2="64.0" y2="254.5" stroke="#262626"/><line x1="655.5" y1="254.5" x2="650.0" y2="254.5" stroke="#d7145a"/><line x1="58.5" y1="206.5" x2="64.0" y2="206.5" stroke="#262626"/><line x1="655.5" y1="206.5" x2="650.0" y2="206.5" stroke="#d7145a"/><line x1="58.5" y1="158.5" x2="64.0" y2="158.5" stroke="#262626"/><line x1="655.5" y1="158.5" x2="650.0" y2="158.5" stroke="#d7145a"/><line x1="58.5" y1="110.5" x2="64.0" y2="110.5" stroke="#262626"/><line x1="655.5" y1="110.5" x2="650.0" y2="110.5" stroke="#d7145a"/>
<line x1="655.5" y1="70.0" x2="655.5" y2="399.0" stroke="#d7145a" stroke-width="1"/>
<g font-family="Liberation Sans, Arial, Helvetica, sans-serif" font-size="16" fill="#262626" stroke="#262626" stroke-width="0.25"><text x="52.2" y="405.1" text-anchor="end">0</text><text x="52.2" y="356.9" text-anchor="end">0.005</text><text x="52.2" y="308.8" text-anchor="end">0.01</text><text x="52.2" y="260.6" text-anchor="end">0.015</text><text x="52.2" y="212.4" text-anchor="end">0.02</text><text x="52.2" y="164.3" text-anchor="end">0.025</text><text x="52.2" y="116.1" text-anchor="end">0.03</text><text x="674.3" y="405.1" fill="#d7145a" stroke="#d7145a" text-anchor="middle">0</text><text x="674.3" y="356.9" fill="#d7145a" stroke="#d7145a" text-anchor="middle">60</text><text x="674.3" y="308.8" fill="#d7145a" stroke="#d7145a" text-anchor="middle">120</text><text x="674.3" y="260.6" fill="#d7145a" stroke="#d7145a" text-anchor="middle">180</text><text x="674.3" y="212.4" fill="#d7145a" stroke="#d7145a" text-anchor="middle">240</text><text x="674.3" y="164.3" fill="#d7145a" stroke="#d7145a" text-anchor="middle">300</text><text x="674.3" y="116.1" fill="#d7145a" stroke="#d7145a" text-anchor="middle">360</text><text x="57.45" y="419.5" text-anchor="middle">11/01</text><text x="158.35" y="419.5" text-anchor="middle">11/06</text><text x="256.40" y="419.5" text-anchor="middle">11/11</text><text x="357.50" y="419.5" text-anchor="middle">11/16</text><text x="456.40" y="419.5" text-anchor="middle">11/21</text><text x="556.40" y="419.5" text-anchor="middle">11/26</text><text x="655.40" y="419.5" text-anchor="middle">12/01</text></g>
<g font-family="Liberation Sans, Arial, Helvetica, sans-serif" font-size="16.15" font-weight="bold" fill="#000" text-anchor="middle"><text x="357" y="41.6">Northern Hemisphere 34529 / 35044 = 98.530%</text><text x="357" y="61.6">AIRS_SPECIFIC_HUMIDITY @ 150 hPa</text></g>
<text x="357" y="440.7" text-anchor="middle" font-family="Liberation Sans, Arial, Helvetica, sans-serif" font-size="16.25" fill="#262626" stroke="#262626" stroke-width="0.25">Nov.01,2019 00:00:00 start</text>
<text transform="translate(5.5,234) rotate(-90)" text-anchor="middle" font-family="Liberation Sans, Arial, Helvetica, sans-serif" font-size="16.5" fill="#262626" stroke="#262626" stroke-width="0.25">rmse and totalspread</text>
<text transform="translate(707.5,233) rotate(-90)" text-anchor="middle" font-family="Liberation Sans, Arial, Helvetica, sans-serif" font-size="16.45" fill="#d7145a" stroke="#d7145a" stroke-width="0.25"># of obs: o=possible; *=evaluated</text>
<text x="146" y="457.7" textLength="503" lengthAdjust="spacingAndGlyphs" font-family="Liberation Sans, Arial, Helvetica, sans-serif" font-size="8" fill="#000" stroke="#000" stroke-width="0.15">data file: /Users/raeder/DAI/ATM_forcXX/CAM6_setup/f.e21.FHIST_BGC.f09_025.CAM6assim.011/Diags_NTrS_2019-11/obs_diag_output.nc</text>
<line x1="379.5" y1="89.5" x2="409.5" y2="89.5" stroke="#000" stroke-width="2.6"/><line x1="379.5" y1="110.5" x2="409.5" y2="110.5" stroke="#008080" stroke-width="2.6"/><circle cx="394.5" cy="110.5" r="3.6" fill="#008080"/><use href="#st" x="394.5" y="89.5"/><g font-family="Liberation Sans, Arial, Helvetica, sans-serif" font-size="16.1" fill="#0046ff" stroke="#0046ff" stroke-width="0.2"><text x="411.8" y="95.8">rmse grand pr = 0.018034</text><text x="411.8" y="116.5">totalspread grand pr = 0.020388</text></g>
</svg></body></html>
